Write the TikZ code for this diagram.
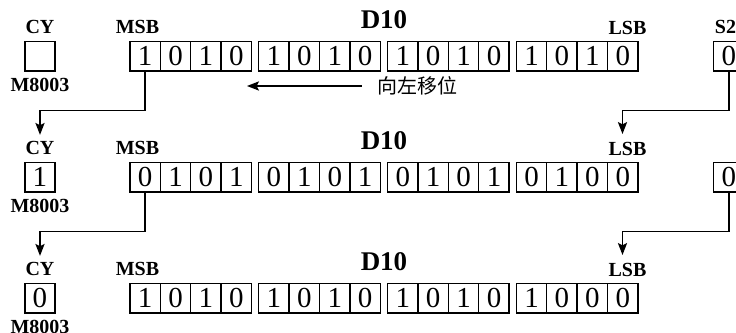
\documentclass[tikz,border=0pt]{standalone}
\usepackage{fontspec}
\setmainfont{Liberation Serif}
\newfontfamily\cjk{Noto Sans CJK SC}
\usepackage{tikz}
\usetikzlibrary{arrows.meta, positioning}
\tikzset{
  bit/.style={draw, line width=0.7pt, minimum width=15.2pt, minimum height=14.8pt,
              inner sep=0pt, font=\fontsize{14.5}{15}\selectfont},
  tag/.style={font=\fontsize{10}{12}\selectfont\bfseries, inner sep=3pt},
  bigtag/.style={font=\fontsize{13.5}{15}\selectfont\bfseries, inner sep=0pt},
  flow/.style={-{Stealth[length=6pt, width=4.6pt, inset=1.2pt]}, line width=0.7pt},
  note/.style={font=\cjk\fontsize{10}{12}\selectfont, inner xsep=7.5pt, inner ysep=0pt},
}

\begin{document}
\begin{tikzpicture}[x=0.5pt, y=-0.5pt]

  \useasboundingbox (0,0) rectangle (736,333);

  %% labels and carry box of each row
  \foreach \r/\y/\c in {1/56/{}, 2/177/1, 3/298/0}
  {
    \node[bit] (cy\r) at (40, \y) {\c};
    \node[tag] (cy\r t) at (40, \y-29) {CY};
    \node[tag] (m\r) at (40, \y+29) {M8003};
    \node[tag] (msb\r) at (137.5, \y-29) {MSB};
    \node[bigtag] (d\r) at (384, \y-36) {D10};
    \node[tag] (lsb\r) at (627.5, \y-28.5) {LSB};
  }

  %% row 1
  \foreach \b [count=\i from 0] in {1,0,1,0, 1,0,1,0, 1,0,1,0, 1,0,1,0}
  {
    \node[bit] (r1c\i) at ({145.2+int(\i/4)*128.8+mod(\i,4)*30.4}, 56) {\b};
  }

  %% row 2 (shifted left by one)
  \foreach \b [count=\i from 0] in {0,1,0,1, 0,1,0,1, 0,1,0,1, 0,1,0,0}
  {
    \node[bit] (r2c\i) at ({145.2+int(\i/4)*128.8+mod(\i,4)*30.4}, 177) {\b};
  }

  %% row 3 (shifted left by two)
  \foreach \b [count=\i from 0] in {1,0,1,0, 1,0,1,0, 1,0,1,0, 1,0,0,0}
  {
    \node[bit] (r3c\i) at ({145.2+int(\i/4)*128.8+mod(\i,4)*30.4}, 298) {\b};
  }

  %% S2 input
  \node[tag] (s2t) at (725.5, 27) {S2};
  \node[bit] (s1) at (729, 56) {0};
  \node[bit] (s2) at (729, 177) {0};

  %% shift note
  \node[note, anchor=west] (shift) at (362, 86) {向左移位};
  \coordinate (shiftend) at (247, 86);
  \draw[flow] (shift.west) -- (shiftend);

  %% Arrows
  \coordinate (lsbin2) at (622.5, 134);
  \coordinate (lsbin3) at (622.5, 255);
  \draw[flow] (r1c0.south) -- ++(0,39) -| (cy2t.north);
  \draw[flow] (s1.south) -- ++(0,39) -| (lsbin2);
  \draw[flow] (r2c0.south) -- ++(0,39) -| (cy3t.north);
  \draw[flow] (s2.south) -- ++(0,39) -| (lsbin3);

\end{tikzpicture}
\end{document}
